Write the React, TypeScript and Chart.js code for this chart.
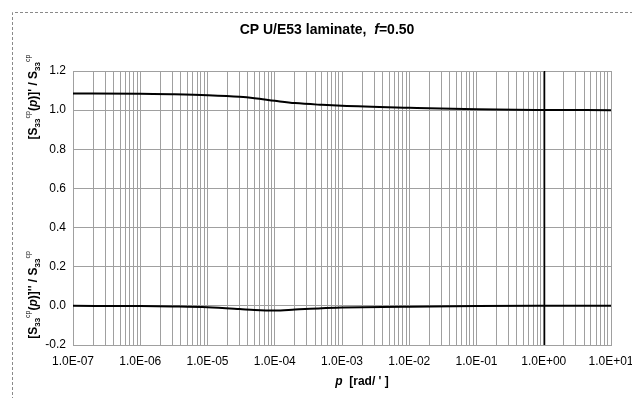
import React, { useEffect, useRef } from "react";
import { Chart, registerables } from "chart.js";

Chart.register(...registerables);

const frequencies = [1e-7, 1e-6, 3e-6, 1e-5, 3e-5, 5e-5, 1e-4, 2e-4, 5e-4, 1e-3, 1e-2, 1e-1, 1, 10];
const realPart = [1.085, 1.084, 1.081, 1.076, 1.068, 1.061, 1.048, 1.036, 1.027, 1.022, 1.012, 1.004, 1.001, 1.0];
const imagPart = [0, -0.001, -0.003, -0.007, -0.016, -0.021, -0.024, -0.019, -0.012, -0.009, -0.004, -0.001, 0, 0];
const xDecades = [-7, -6, -5, -4, -3, -2, -1, 0, 1];
const yTicks = [-0.2, 0, 0.2, 0.4, 0.6, 0.8, 1.0, 1.2];

const titleText = "CP U/E53 laminate,  ";
const FONT = "'Liberation Sans', Arial, sans-serif";

function fmtExp(v: number) {
  const e = Math.round(Math.log10(v));
  const sign = e < 0 ? "-" : "+";
  return `1.0E${sign}${String(Math.abs(e)).padStart(2, "0")}`;
}

type Seg = { t: string; size: number; bold?: boolean; italic?: boolean; dy?: number };

function segFont(s: Seg) {
  return `${s.italic ? "italic " : ""}${s.bold ? "bold " : ""}${s.size}px ${FONT}`;
}

function drawRich(ctx: CanvasRenderingContext2D, segs: Seg[], cx: number, cy: number, rotate: boolean) {
  ctx.save();
  ctx.translate(cx, cy);
  if (rotate) ctx.rotate(-Math.PI / 2);
  let total = 0;
  for (const s of segs) {
    ctx.font = segFont(s);
    total += ctx.measureText(s.t).width;
  }
  let x = -total / 2;
  ctx.fillStyle = "#000";
  ctx.textBaseline = "middle";
  ctx.textAlign = "left";
  for (const s of segs) {
    ctx.font = segFont(s);
    ctx.fillText(s.t, x, s.dy || 0);
    x += ctx.measureText(s.t).width;
  }
  ctx.restore();
}

function yLabel(prime: string): Seg[] {
  return [
    { t: "[S", size: 12, bold: true },
    { t: "33", size: 8, bold: true, dy: 4 },
    { t: "cp", size: 7, dy: -6 },
    { t: "(", size: 12, bold: true },
    { t: "p", size: 12, bold: true, italic: true },
    { t: ")]" + prime + " / S", size: 12, bold: true },
    { t: "33", size: 8, bold: true, dy: 4 },
    { t: "cp", size: 7, dy: -6 },
  ];
}

const decorPlugin = {
  id: "decor",
  beforeDatasetsDraw(chart: any) {
    const ctx = chart.ctx as CanvasRenderingContext2D;
    const { left, right, top, bottom } = chart.chartArea;
    ctx.save();
    ctx.strokeStyle = "#a0a0a0";
    ctx.lineWidth = 1;
    ctx.beginPath();
    ctx.moveTo(left, top + 0.5);
    ctx.lineTo(right + 0.5, top + 0.5);
    ctx.lineTo(right + 0.5, bottom);
    ctx.stroke();
    const x1 = Math.round(chart.scales.x.getPixelForValue(1)) + 0.5;
    ctx.strokeStyle = "#000";
    ctx.lineWidth = 1.5;
    ctx.beginPath();
    ctx.moveTo(x1, top);
    ctx.lineTo(x1, bottom);
    ctx.stroke();
    ctx.restore();
  },
  afterDraw(chart: any) {
    const ctx = chart.ctx as CanvasRenderingContext2D;
    ctx.save();
    ctx.strokeStyle = "#8a8a8a";
    ctx.lineWidth = 1;
    ctx.setLineDash([3, 2]);
    ctx.beginPath();
    ctx.moveTo(12.5, 420);
    ctx.lineTo(12.5, 12.5);
    ctx.lineTo(640, 12.5);
    ctx.stroke();
    ctx.restore();

    drawRich(ctx, [
      { t: titleText, size: 14, bold: true },
      { t: "f", size: 14, bold: true, italic: true },
      { t: "=0.50", size: 14, bold: true },
    ], 327, 30, false);

    drawRich(ctx, [
      { t: "p", size: 12, bold: true, italic: true },
      { t: "  [rad/ ' ]", size: 12, bold: true },
    ], 362, 382, false);

    drawRich(ctx, yLabel("'"), 34, 97, true);
    drawRich(ctx, yLabel("''"), 34, 295, true);
  },
};

export default function App() {
  const ref = useRef<HTMLCanvasElement>(null);
  useEffect(() => {
    document.body.style.margin = "0";
    const canvas = ref.current!;
    const chart = new Chart(canvas, {
      type: "line",
      data: {
        datasets: [
          {
            data: frequencies.map((x, i) => ({ x, y: realPart[i] })),
            borderColor: "#000",
            borderWidth: 2,
            pointRadius: 0,
            cubicInterpolationMode: "monotone",
          },
          {
            data: frequencies.map((x, i) => ({ x, y: imagPart[i] })),
            borderColor: "#000",
            borderWidth: 2,
            pointRadius: 0,
            cubicInterpolationMode: "monotone",
          },
        ],
      },
      options: {
        animation: false,
        responsive: false,
        layout: { padding: { left: 0, top: 71, right: 21, bottom: 0 } },
        plugins: { legend: { display: false }, tooltip: { enabled: false }, title: { display: false } },
        scales: {
          x: {
            type: "logarithmic",
            min: 1e-7,
            max: 10,
            afterFit(scale: any) {
              scale.height = 53;
              scale.paddingLeft = 0;
              scale.paddingRight = 0;
            },
            afterBuildTicks(scale: any) {
              const ticks: any[] = [];
              for (const d of xDecades) {
                for (let m = 1; m <= 9; m++) {
                  const v = m * Math.pow(10, d);
                  if (v > 10 * 1.0001) break;
                  ticks.push({ value: v, major: m === 1 });
                  if (d === 1) break;
                }
              }
              scale.ticks = ticks;
            },
            ticks: {
              autoSkip: false,
              maxRotation: 0,
              padding: 9,
              color: "#000",
              font: { family: FONT, size: 12 },
              callback(value: any) {
                const v = Number(value);
                const l = Math.log10(v);
                return Math.abs(l - Math.round(l)) < 1e-6 ? fmtExp(v) : "";
              },
            },
            grid: { color: "#a0a0a0", lineWidth: 1, drawTicks: false },
            border: { display: true, color: "#a0a0a0" },
          },
          y: {
            type: "linear",
            min: -0.2,
            max: 1.2,
            afterFit(scale: any) {
              scale.width = 73;
              scale.paddingTop = 0;
              scale.paddingBottom = 0;
            },
            afterBuildTicks(scale: any) {
              scale.ticks = yTicks.map((v) => ({ value: v }));
            },
            ticks: {
              padding: 7,
              color: "#000",
              font: { family: FONT, size: 12 },
              callback(value: any) {
                return Number(value).toFixed(1);
              },
            },
            grid: { color: "#a0a0a0", lineWidth: 1, drawTicks: false },
            border: { display: true, color: "#a0a0a0" },
          },
        },
      },
      plugins: [decorPlugin],
    } as any);
    return () => chart.destroy();
  }, []);
  return <canvas ref={ref} width={632} height={398} style={{ display: "block" }} />;
}
